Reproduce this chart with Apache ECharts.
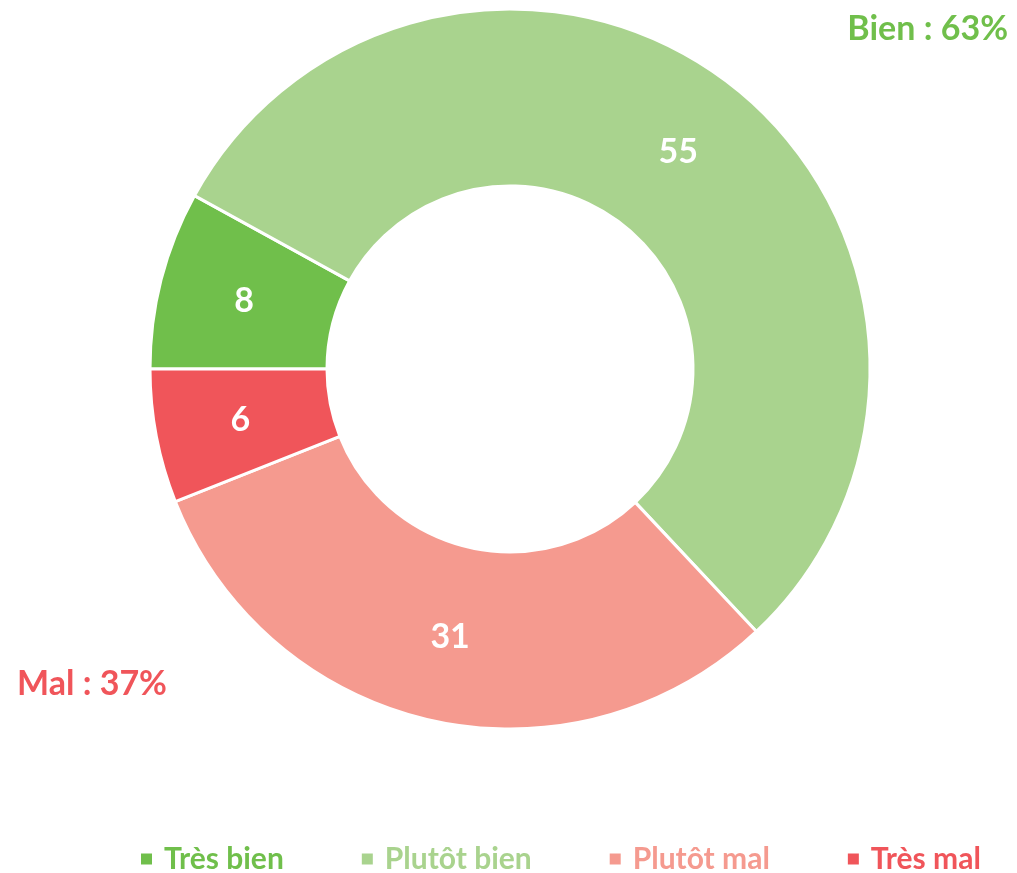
<!DOCTYPE html>
<html>
<head>
<meta charset="utf-8">
<script src="https://cdn.jsdelivr.net/npm/echarts@6/dist/echarts.min.js"></script>
<style>
    html, body { margin: 0; padding: 0; background: #fff; }
    #chart { width: 1017px; height: 873px; }
</style>
</head>
<body>
<div id="chart"></div>
<script>
const categories = ['Très bien', 'Plutôt bien', 'Plutôt mal', 'Très mal']
const values = [8, 55, 31, 6]
const colors = ['#70bf4b', '#a9d38e', '#f59a8f', '#f0555a']
const summaryLabels = ['Bien : 63%', 'Mal : 37%']

let chart = echarts.init(document.getElementById('chart'))
let font = 'Lato, "Open Sans", sans-serif'

let option = {
    animation: false,
    graphic: [
        {
            type: 'text',
            right: 9,
            top: 12,
            style: { text: summaryLabels[0], fill: colors[0], font: 'bold 34px ' + font },
        },
        {
            type: 'text',
            left: 17,
            top: 667,
            style: { text: summaryLabels[1], fill: colors[3], font: 'bold 34px ' + font },
        },
    ],
    legend: {
        top: 839,
        left: 134,
        icon: 'rect',
        itemWidth: 13,
        itemHeight: 13,
        itemGap: 76,
        data: categories.map((name, i) => ({
            name,
            textStyle: { color: colors[i] },
        })),
        textStyle: {
            fontFamily: font,
            fontWeight: 'bold',
            fontSize: 30,
            padding: [0, 0, 0, 6],
        },
    },
    series: [
        {
            type: 'pie',
            center: [510, 369],
            radius: [183, 360],
            startAngle: 180,
            clockwise: true,
            color: colors,
            itemStyle: {
                borderColor: '#fff',
                borderWidth: 3,
            },
            label: {
                position: 'inside',
                color: '#fff',
                fontFamily: font,
                fontWeight: 'bold',
                fontSize: 34,
                formatter: '{c}',
            },
            labelLine: { show: false },
            emphasis: { disabled: true },
            data: categories.map((name, i) => ({ name, value: values[i] })),
        },
    ],
}

chart.setOption(option)
window.addEventListener('resize', () => {
    chart.resize()
})
</script>
</body>
</html>
